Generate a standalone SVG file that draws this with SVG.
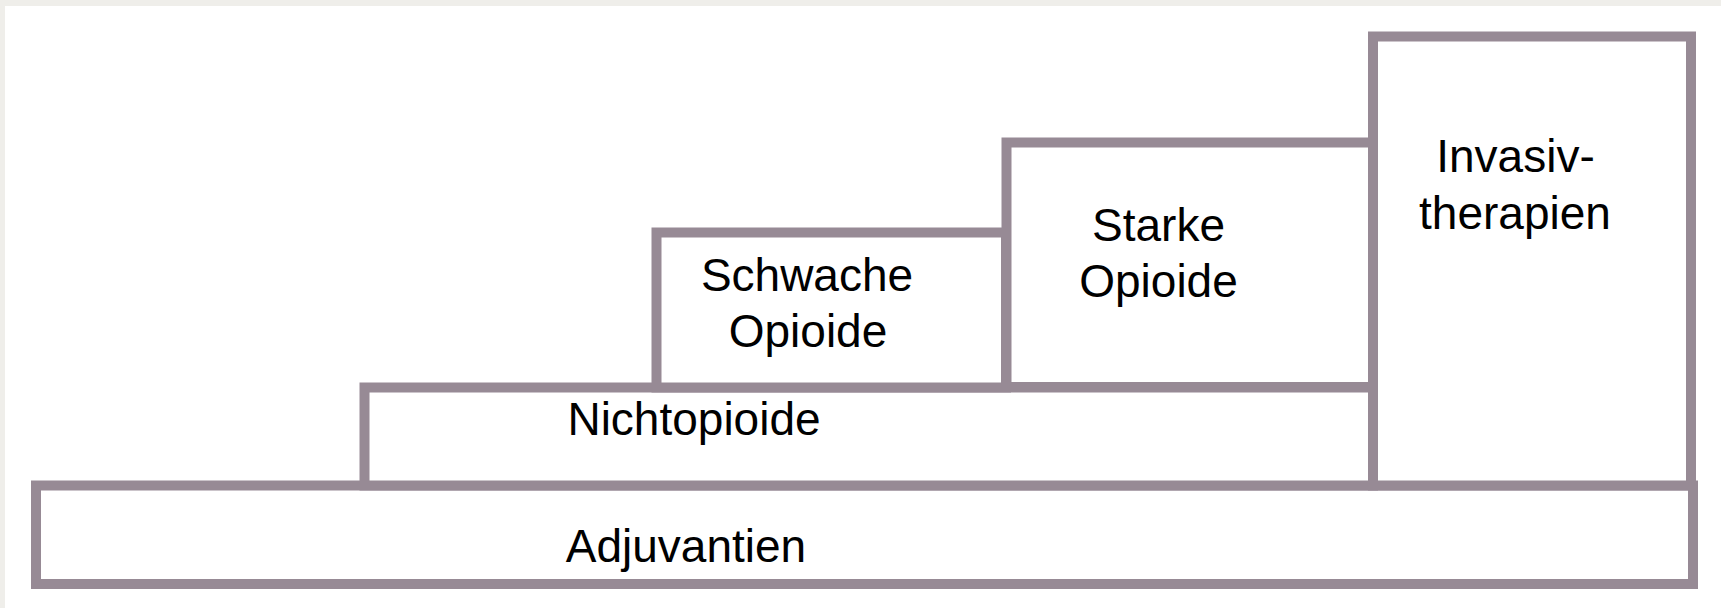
<svg xmlns="http://www.w3.org/2000/svg" width="1721" height="608" viewBox="0 0 1721 608">
<style>
.box{fill:#ffffff;stroke:#978a95;stroke-width:10}
.lbl{font-family:"Liberation Sans",Arial,sans-serif;font-size:46px;fill:#000000;text-anchor:middle}
</style>
<rect x="0" y="0" width="1721" height="608" fill="#efeeea"/>
<rect x="5" y="6" width="1716" height="602" fill="#ffffff"/>
<g id="adjuvantien">
<rect class="box" x="36" y="485.5" width="1657" height="98.5"/>
<text class="lbl" x="686" y="561.5">Adjuvantien</text>
</g>
<g id="nichtopioide">
<rect class="box" x="364.5" y="387.5" width="1008.5" height="98"/>
<text class="lbl" x="694" y="435">Nichtopioide</text>
</g>
<g id="schwache">
<rect class="box" x="656.5" y="232.5" width="349.5" height="155"/>
<text class="lbl" x="807" y="290.5">Schwache</text>
<text class="lbl" x="808" y="347">Opioide</text>
</g>
<g id="starke">
<rect class="box" x="1006.5" y="142.5" width="366.5" height="244.5"/>
<text class="lbl" x="1158.5" y="240.5">Starke</text>
<text class="lbl" x="1158.5" y="296.5">Opioide</text>
</g>
<g id="invasiv">
<rect class="box" x="1373" y="36.5" width="318" height="449"/>
<text class="lbl" x="1515.5" y="171.5">Invasiv-</text>
<text class="lbl" x="1515" y="228.5">therapien</text>
</g>
<g id="connectors"></g>
</svg>
